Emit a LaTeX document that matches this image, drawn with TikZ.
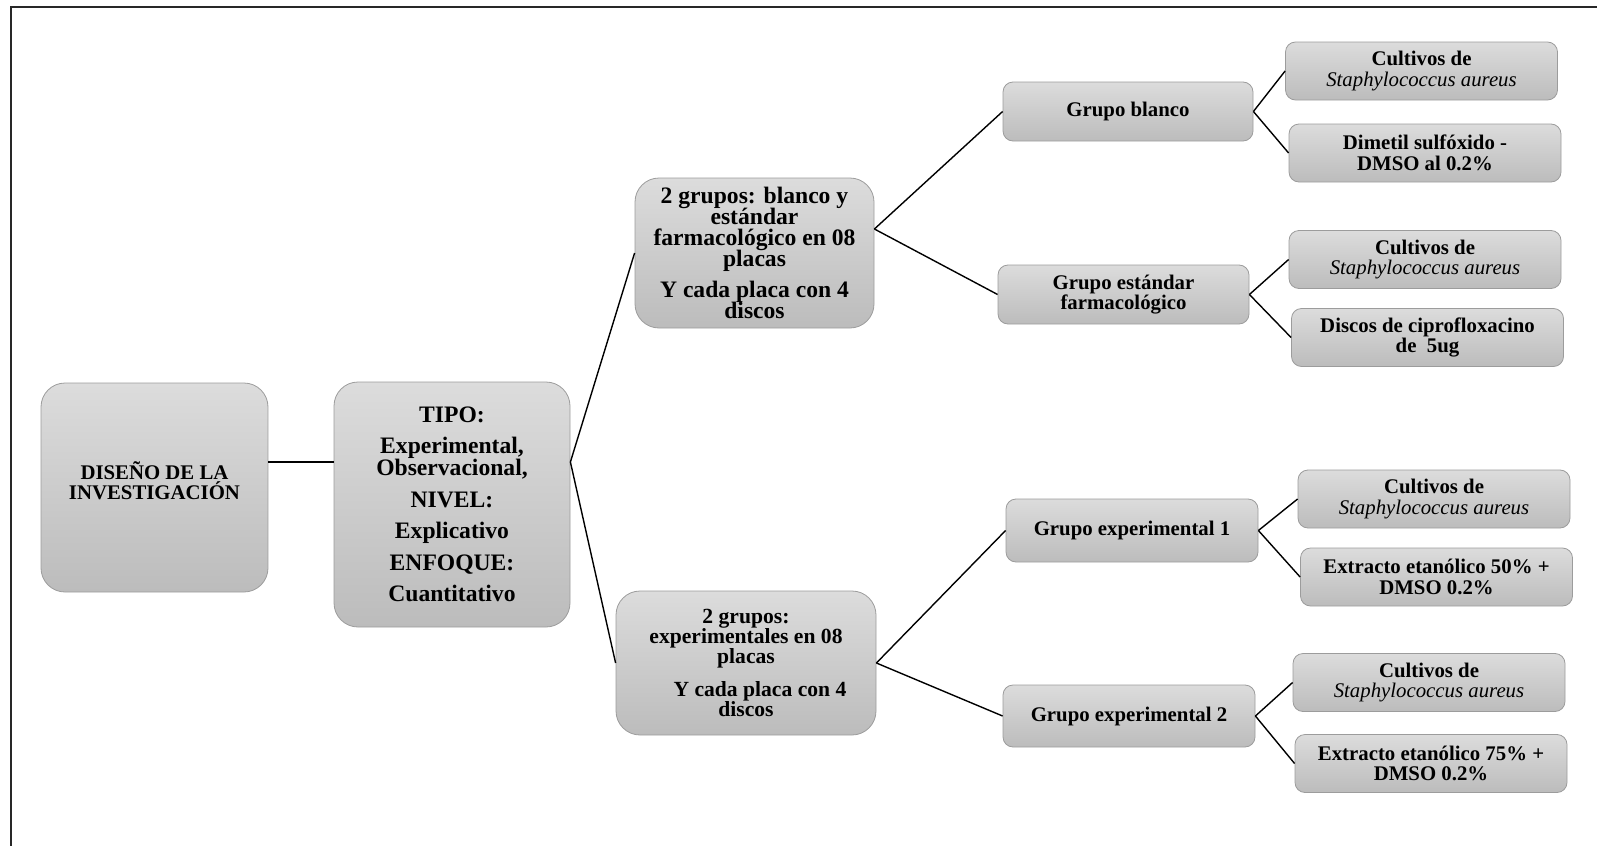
\documentclass[tikz,border=0pt]{standalone}
\usepackage{fontspec}
\setmainfont{Liberation Serif}
\definecolor{boxtop}{HTML}{DCDCDC}
\definecolor{boxbottom}{HTML}{BCBCBC}
\definecolor{boxline}{HTML}{9C9C9C}
\newcommand{\tightlines}{\lineskiplimit=-5pt\relax\lineskip=0pt\relax}

\begin{document}
\begin{tikzpicture}[x=0.5pt, y=-0.5pt]
    % Node styles
    \tikzstyle{none}=[inner sep=0mm]
    \tikzstyle{big box}=[top color=boxtop, bottom color=boxbottom, draw=boxline, shape=rectangle, rounded corners=12pt, align=center, inner sep=2pt, font=\fontsize{11.8}{10.5}\selectfont\bfseries\tightlines]
    \tikzstyle{group box}=[top color=boxtop, bottom color=boxbottom, draw=boxline, shape=rectangle, rounded corners=5pt, align=center, inner sep=2pt, font=\fontsize{10.4}{10.2}\selectfont\bfseries]
    \tikzstyle{leaf box}=[style=group box, minimum width=136pt, minimum height=29pt]
    % Edge styles
    \tikzstyle{line}=[-, line width=0.7pt]
    \tikzstyle{frame}=[line width=1pt, draw={rgb,255: red,40; green,40; blue,40}]

    \useasboundingbox (0, 0) rectangle (1597, 846);
    \draw [style=frame] (11, 846) -- (11, 7) -- (1597, 7);

    \node [style=big box, minimum width=113.5pt, minimum height=104.5pt, font=\fontsize{10.4}{10.2}\selectfont\bfseries] (0) at (154.5, 487.5) {DISEÑO DE LA\\INVESTIGACIÓN\\[-3pt]};
    \node [style=big box, minimum width=118pt, minimum height=122.5pt, font=\fontsize{11.8}{10.8}\selectfont\bfseries\tightlines] (1) at (452, 504.5) {TIPO:\\[5pt]Experimental,\\Observacional,\\[5pt]NIVEL:\\[5pt]Explicativo\\[5pt]ENFOQUE:\\[5pt]Cuantitativo};
    \node [style=big box, minimum width=119.5pt, minimum height=75pt] (2) at (754.5, 253) {2 grupos: blanco y\\estándar\\farmacológico en 08\\placas\\[5pt]Y cada placa con 4\\discos};
    \node [style=big box, minimum width=130pt, minimum height=72pt, font=\fontsize{10.8}{10}\selectfont\bfseries] (3) at (746, 663) {2 grupos:\\experimentales en 08\\placas\\[6.5pt]\hspace*{14pt}Y cada placa con 4\\discos};
    \node [style=group box, minimum width=125pt, minimum height=29.5pt] (4) at (1128, 111.5) {Grupo blanco};
    \node [style=group box, minimum width=125.5pt, minimum height=29.5pt] (5) at (1123.5, 294.5) {Grupo estándar\\farmacológico};
    \node [style=group box, minimum width=126pt, minimum height=31.5pt] (6) at (1132, 530.5) {Grupo experimental 1};
    \node [style=group box, minimum width=126pt, minimum height=31pt] (7) at (1129, 716) {Grupo experimental 2};
    \node [style=leaf box] (8) at (1421.5, 71) {Cultivos de\\{\mdseries\itshape Staphylococcus aureus}};
    \node [style=leaf box] (9) at (1425, 153) {Dimetil sulfóxido -\\DMSO al 0.2\%};
    \node [style=leaf box] (10) at (1425, 259.5) {Cultivos de\\{\mdseries\itshape Staphylococcus aureus}};
    \node [style=leaf box] (11) at (1427.5, 337.5) {Discos de ciprofloxacino\\de\ \ 5ug};
    \node [style=leaf box] (12) at (1434, 499) {Cultivos de\\{\mdseries\itshape Staphylococcus aureus}};
    \node [style=leaf box] (13) at (1436.5, 577) {Extracto etanólico 50\% +\\DMSO 0.2\%};
    \node [style=leaf box] (14) at (1429, 682.5) {Cultivos de\\{\mdseries\itshape Staphylococcus aureus}};
    \node [style=leaf box] (15) at (1431, 763.5) {Extracto etanólico 75\% +\\DMSO 0.2\%};

    \draw [style=line] ([yshift=12.75pt]0.east) to ([yshift=21.25pt]1.west);
    \draw [style=line] ([yshift=21.25pt]1.east) to (2.west);
    \draw [style=line] ([yshift=21.25pt]1.east) to (3.west);
    \draw [style=line] ([yshift=12pt]2.east) to (4.west);
    \draw [style=line] ([yshift=12pt]2.east) to (5.west);
    \draw [style=line] (3.east) to (6.west);
    \draw [style=line] (3.east) to (7.west);
    \draw [style=line] (4.east) to (8.west);
    \draw [style=line] (4.east) to (9.west);
    \draw [style=line] (5.east) to (10.west);
    \draw [style=line] (5.east) to (11.west);
    \draw [style=line] (6.east) to (12.west);
    \draw [style=line] (6.east) to (13.west);
    \draw [style=line] (7.east) to (14.west);
    \draw [style=line] (7.east) to (15.west);
\end{tikzpicture}
\end{document}
